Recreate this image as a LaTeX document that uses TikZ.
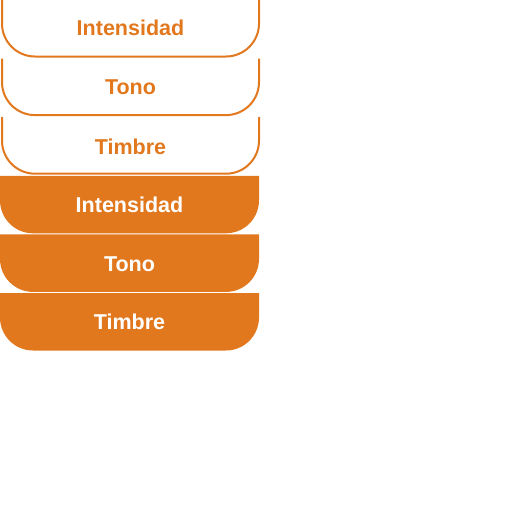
\documentclass[tikz,border=0pt]{standalone}
\usepackage{fontspec}
\setmainfont{Liberation Sans}
\usepackage{tikz}
\definecolor{naranja}{HTML}{E2781E}
\tikzset{linea/.style={draw=naranja,line width=2pt}}
\tikzset{relleno/.style={fill=naranja}}
\tikzset{t/.style={font=\fontsize{21.5}{21.5}\selectfont\bfseries,inner sep=0pt}}

\begin{document}
\begin{tikzpicture}[x=1pt,y=-1pt]
        \useasboundingbox (0,0) rectangle (512,512);
        % cajas con contorno
        \draw[linea] (2,-1) -- (2,23.5) arc[start angle=180,end angle=90,radius=33] -- (226,56.5) arc[start angle=90,end angle=0,radius=33] -- (259,-1);
        \draw[linea] (2,58.6) -- (2,82.1) arc[start angle=180,end angle=90,radius=33] -- (226,115.1) arc[start angle=90,end angle=0,radius=33] -- (259,58.6);
        \draw[linea] (2,117.2) -- (2,140.7) arc[start angle=180,end angle=90,radius=33] -- (226,173.7) arc[start angle=90,end angle=0,radius=33] -- (259,117.2);
        % cajas rellenas
        \fill[relleno] (0,175.8) -- (0,200.3) arc[start angle=180,end angle=90,radius=33] -- (226,233.3) arc[start angle=90,end angle=0,radius=33] -- (259,175.8) -- cycle;
        \fill[relleno] (0,234.4) -- (0,258.9) arc[start angle=180,end angle=90,radius=33] -- (226,291.9) arc[start angle=90,end angle=0,radius=33] -- (259,234.4) -- cycle;
        \fill[relleno] (0,293) -- (0,317.5) arc[start angle=180,end angle=90,radius=33] -- (226,350.5) arc[start angle=90,end angle=0,radius=33] -- (259,293) -- cycle;
        \node[t,text=naranja] (int1) at (130.5,27.5) {Intensidad};
        \node[t,text=naranja] (tono1) at (130.5,87.5) {Tono};
        \node[t,text=naranja] (timb1) at (130.5,146.5) {Timbre};
        \node[t,text=white] (int2) at (129.5,205) {Intensidad};
        \node[t,text=white] (tono2) at (129.5,264) {Tono};
        \node[t,text=white] (timb2) at (129.5,322) {Timbre};
      \end{tikzpicture}
\end{document}
